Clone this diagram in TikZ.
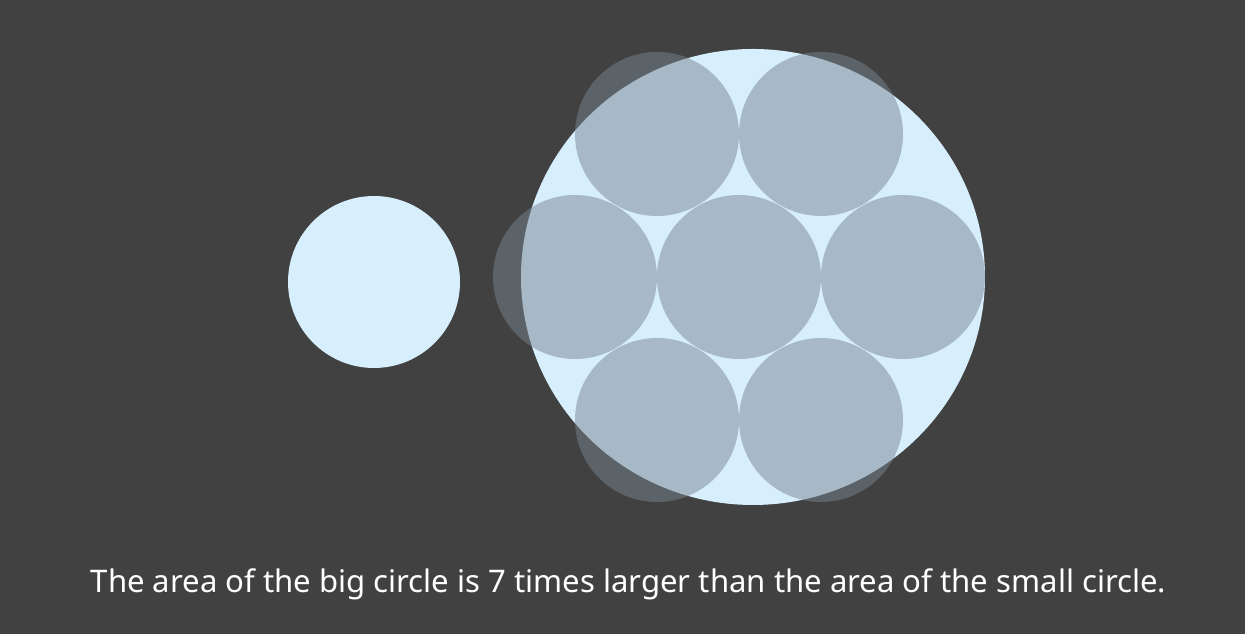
\documentclass[tikz,border=0pt]{standalone}
\usepackage{fontspec}
\setmainfont{Noto Sans}
\usetikzlibrary{shapes.geometric}
\definecolor{backgr}{RGB}{65,65,65}
\definecolor{lightblue}{RGB}{215,239,253}
\definecolor{coingray}{RGB}{120,133,144}
\tikzstyle{disc} = [circle, fill=lightblue, inner sep=0pt, minimum size=3.44cm]
\tikzstyle{bigdisc} = [ellipse, fill=lightblue, inner sep=0pt, minimum width=9.28cm, minimum height=9.12cm]
\tikzstyle{coin} = [circle, fill=coingray, fill opacity=0.5, inner sep=0pt, minimum size=3.28cm]

\begin{document}
\begin{tikzpicture}
\fill[backgr] (0,0) rectangle (24.9,12.68);
\useasboundingbox (0,0) rectangle (24.9,12.68);
\node[disc,xshift=7.48cm,yshift=7.04cm] (small) {};
\node[bigdisc,xshift=15.06cm,yshift=7.14cm] (big) {};
\node[coin,xshift=14.78cm,yshift=7.14cm] (c0) {};
\node[coin,xshift=11.5cm,yshift=7.14cm] (c1) {};
\node[coin,xshift=18.06cm,yshift=7.14cm] (c2) {};
\node[coin,xshift=13.14cm,yshift=10cm] (c3) {};
\node[coin,xshift=16.42cm,yshift=10cm] (c4) {};
\node[coin,xshift=13.14cm,yshift=4.28cm] (c5) {};
\node[coin,xshift=16.42cm,yshift=4.28cm] (c6) {};
\node[anchor=base,text=white,font=\fontsize{17.7}{21}\selectfont,xshift=12.57cm,yshift=0.82cm] (caption) {The area of the big circle is 7 times larger than the area of the small circle.};
\end{tikzpicture}
\end{document}
